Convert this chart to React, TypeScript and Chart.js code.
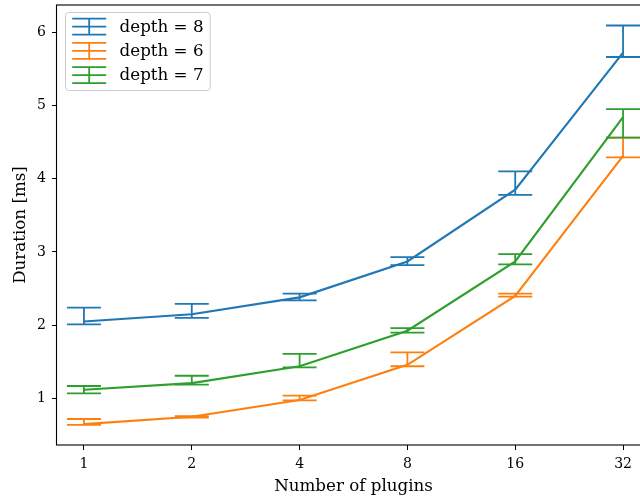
import React, { useEffect, useRef } from "react";
import { Chart, registerables } from "chart.js";

Chart.register(...registerables);

const xLabels = ["1", "2", "4", "8", "16", "32"];
const seriesLabels = ["depth = 8", "depth = 6", "depth = 7"];
const seriesColors = ["#1f77b4", "#ff7f0e", "#2ca02c"];

const depth8Mean = [2.05, 2.15, 2.38, 2.87, 3.85, 5.72];
const depth8Low = [2.01, 2.1, 2.34, 2.82, 3.78, 5.66];
const depth8High = [2.24, 2.29, 2.43, 2.93, 4.1, 6.09];

const depth6Mean = [0.65, 0.75, 0.98, 1.46, 2.4, 4.31];
const depth6Low = [0.64, 0.74, 0.975, 1.44, 2.39, 4.29];
const depth6High = [0.72, 0.76, 1.04, 1.63, 2.43, 4.56];

const depth7Mean = [1.12, 1.21, 1.44, 1.925, 2.87, 4.84];
const depth7Low = [1.07, 1.19, 1.425, 1.9, 2.83, 4.56];
const depth7High = [1.17, 1.31, 1.61, 1.96, 2.97, 4.95];

const yTicks = [1, 2, 3, 4, 5, 6];

const means = [depth8Mean, depth6Mean, depth7Mean];
const lows = [depth8Low, depth6Low, depth7Low];
const highs = [depth8High, depth6High, depth7High];

const FONT = '"DejaVu Serif", serif';
const CAP = 17;

const errorBarPlugin = {
  id: "errorBars",
  afterDatasetDraw(chart: any, args: any) {
    const i = args.index;
    const { ctx } = chart;
    const xs = chart.scales.x;
    const ys = chart.scales.y;
    ctx.save();
    ctx.strokeStyle = seriesColors[i];
    ctx.lineWidth = 1.8;
    lows[i].forEach((lo: number, k: number) => {
      const px = xs.getPixelForValue(k);
      const pLo = ys.getPixelForValue(lo);
      const pHi = ys.getPixelForValue(highs[i][k]);
      ctx.beginPath();
      ctx.moveTo(px, pLo);
      ctx.lineTo(px, pHi);
      ctx.moveTo(px - CAP, pLo);
      ctx.lineTo(px + CAP, pLo);
      ctx.moveTo(px - CAP, pHi);
      ctx.lineTo(px + CAP, pHi);
      ctx.stroke();
    });
    ctx.restore();
  },
};

const framePlugin = {
  id: "frameAndLegend",
  afterDraw(chart: any) {
    const { ctx, chartArea } = chart;
    const { left, top, right, bottom } = chartArea;
    ctx.save();
    // spines
    ctx.strokeStyle = "#000";
    ctx.lineWidth = 1.1;
    ctx.strokeRect(left - 0.5, top, right - left + 0.5, bottom - top);

    // legend
    const fs = 16.7;
    ctx.font = `${fs}px ${FONT}`;
    const boxL = left + 8.5;
    const boxT = top + 7.5;
    const pad = 6.7;
    const handleL = boxL + pad;
    const handleW = 34;
    const textX = handleL + handleW + 13.4;
    let maxW = 0;
    seriesLabels.forEach((t) => {
      maxW = Math.max(maxW, ctx.measureText(t).width);
    });
    const boxW = textX + maxW + pad - boxL;
    const boxH = 78;
    ctx.beginPath();
    if (ctx.roundRect) ctx.roundRect(boxL, boxT, boxW, boxH, 3.5);
    else ctx.rect(boxL, boxT, boxW, boxH);
    ctx.fillStyle = "rgba(255,255,255,0.8)";
    ctx.fill();
    ctx.strokeStyle = "#cccccc";
    ctx.lineWidth = 1;
    ctx.stroke();

    seriesLabels.forEach((t, i) => {
      const cy = boxT + 14.2 + i * 24.2;
      const cx = handleL + handleW / 2;
      ctx.strokeStyle = seriesColors[i];
      ctx.lineWidth = 1.8;
      ctx.beginPath();
      ctx.moveTo(handleL, cy);
      ctx.lineTo(handleL + handleW, cy);
      ctx.moveTo(cx, cy - 8);
      ctx.lineTo(cx, cy + 8);
      ctx.moveTo(handleL, cy - 8);
      ctx.lineTo(handleL + handleW, cy - 8);
      ctx.moveTo(handleL, cy + 8);
      ctx.lineTo(handleL + handleW, cy + 8);
      ctx.stroke();
      ctx.fillStyle = "#000";
      ctx.textBaseline = "middle";
      ctx.textAlign = "left";
      ctx.fillText(t, textX, cy + 1);
    });
    ctx.restore();
  },
};

export default function App() {
  const ref = useRef<HTMLCanvasElement | null>(null);

  useEffect(() => {
    if (!ref.current) return;
    const datasets = means.map((m, i) => ({
      label: seriesLabels[i],
      data: m.map((v, k) => ({ x: k, y: v })),
      borderColor: seriesColors[i],
      backgroundColor: seriesColors[i],
      borderWidth: 2.1,
      pointRadius: 0,
      tension: 0,
      fill: false,
      order: 3 - i,
    }));
    const chart = new Chart(ref.current, {
      type: "line",
      data: { datasets },
      plugins: [errorBarPlugin, framePlugin],
      options: {
        responsive: false,
        animation: false,
        devicePixelRatio: 1,
        layout: { padding: { top: 5, right: 0, left: 0, bottom: 0 } },
        plugins: {
          legend: { display: false },
          tooltip: { enabled: false },
          title: { display: false },
        },
        scales: {
          x: {
            type: "linear",
            min: -0.25,
            max: 5.25,
            afterBuildTicks: (s: any) => {
              s.ticks = xLabels.map((_, k) => ({ value: k }));
            },
            afterFit: (s: any) => {
              s.height = 56;
              s.paddingLeft = 0;
              s.paddingRight = 0;
            },
            ticks: {
              callback: (v: any) => xLabels[v as number] ?? "",
              font: { family: FONT, size: 14 },
              color: "#000",
              padding: 6,
              maxRotation: 0,
              autoSkip: false,
            },
            grid: {
              drawOnChartArea: false,
              drawTicks: true,
              tickLength: 5,
              color: "#000",
              lineWidth: 1,
            },
            border: { display: false },
            title: {
              display: true,
              text: "Number of plugins",
              color: "#000",
              font: { family: FONT, size: 16.7 },
              padding: { top: 0, bottom: 4.7 },
            },
          },
          y: {
            type: "linear",
            min: 0.365,
            max: 6.37,
            afterBuildTicks: (s: any) => {
              s.ticks = yTicks.map((v) => ({ value: v }));
            },
            afterFit: (s: any) => {
              s.width = 57;
              s.paddingTop = 0;
              s.paddingBottom = 0;
            },
            ticks: {
              callback: (v: any) => String(v),
              font: { family: FONT, size: 14 },
              color: "#000",
              padding: 6,
            },
            grid: {
              drawOnChartArea: false,
              drawTicks: true,
              tickLength: 5,
              color: "#000",
              lineWidth: 1,
            },
            border: { display: false },
            title: {
              display: true,
              text: "Duration [ms]",
              color: "#000",
              font: { family: FONT, size: 16.7 },
              padding: { top: 11, bottom: 0 },
            },
          },
        },
      },
    } as any);
    return () => chart.destroy();
  }, []);

  return (
    <div
      style={{
        position: "fixed",
        left: 0,
        top: 0,
        width: 640,
        height: 501,
        overflow: "hidden",
        background: "#fff",
      }}
    >
      <canvas
        ref={ref}
        width={650}
        height={501}
        style={{ display: "block", width: 650, height: 501 }}
      />
    </div>
  );
}
